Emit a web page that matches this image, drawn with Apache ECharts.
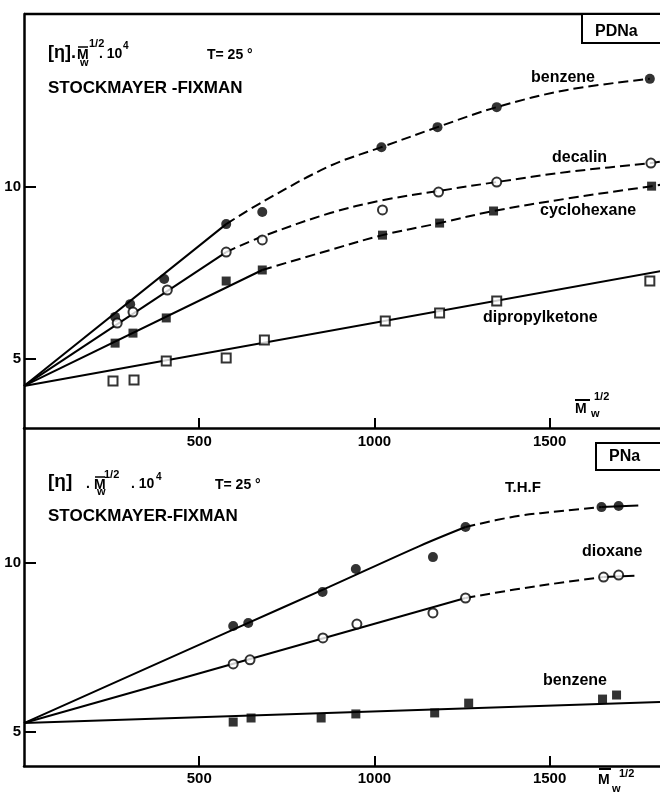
<!DOCTYPE html>
<html><head><meta charset="utf-8">
<script src="https://cdn.jsdelivr.net/npm/echarts@6/dist/echarts.min.js"></script>
<style>html,body{margin:0;padding:0;background:#fff}#c{width:660px;height:794px}</style>
</head><body><div id="c"></div>
<script>
// ---------- DATA ----------
const xTicks = [500, 1000, 1500];
const yTicksTop = [5, 10];
const yTicksBottom = [5, 10];

// Top panel: PDNa
const pdnaBenzenePts = [[260,6.22],[303,6.59],[400,7.32],[577,8.91],[680,9.26],[1020,11.14],[1180,11.72],[1349,12.30],[1786,13.12]];
const pdnaDecalinPts = [[266,6.04],[311,6.36],[409,7.00],[577,8.10],[680,8.45],[1023,9.32],[1183,9.84],[1349,10.13],[1789,10.68]];
const pdnaCyclohexanePts = [[260,5.46],[311,5.75],[406,6.19],[577,7.26],[680,7.58],[1023,8.59],[1186,8.94],[1340,9.29],[1791,10.01]];
const pdnaDipropylPts = [[254,4.36],[314,4.39],[406,4.94],[577,5.03],[686,5.55],[1031,6.10],[1186,6.33],[1349,6.68],[1786,7.26]];

const pdnaBenzeneSolid = [[0,4.22],[577,8.91]];
const pdnaBenzeneDash = [[577,8.91],[680,9.55],[874,10.6],[1020,11.14],[1180,11.72],[1349,12.3],[1550,12.8],[1786,13.12]];
const pdnaDecalinSolid = [[0,4.22],[577,8.10]];
const pdnaDecalinDash = [[577,8.10],[680,8.55],[874,9.23],[1023,9.6],[1183,9.87],[1349,10.13],[1550,10.42],[1789,10.68],[1817,10.72]];
const pdnaCyclohexaneSolid = [[0,4.22],[680,7.58]];
const pdnaCyclohexaneDash = [[680,7.58],[874,8.16],[1023,8.59],[1186,8.94],[1340,9.29],[1550,9.65],[1791,10.01],[1817,10.05]];
const pdnaDipropylLine = [[0,4.22],[1817,7.55]];

// Bottom panel: PNa
const pnaThfPts = [[597,8.14],[640,8.23],[852,9.15],[947,9.83],[1167,10.18],[1260,11.07],[1648,11.66],[1697,11.69]];
const pnaDioxanePts = [[597,7.02],[645,7.14],[853,7.79],[950,8.20],[1167,8.53],[1260,8.97],[1654,9.59],[1697,9.65]];
const pnaBenzenePts = [[597,5.30],[648,5.42],[848,5.42],[947,5.54],[1172,5.57],[1269,5.86],[1651,5.98],[1691,6.10]];

const pnaThfSolid = [[0,5.27],[600,8.05],[871,9.3],[1127,10.5],[1260,11.07]];
const pnaThfDash = [[1260,11.07],[1400,11.38],[1550,11.56],[1648,11.66]];
const pnaThfTail = [[1648,11.66],[1753,11.71]];
const pnaDioxaneSolid = [[0,5.27],[1260,8.97]];
const pnaDioxaneDash = [[1260,8.97],[1400,9.22],[1550,9.45],[1654,9.59]];
const pnaDioxaneTail = [[1654,9.59],[1742,9.63]];
const pnaBenzeneLine = [[0,5.27],[1815,5.89]];

// ---------- CHART ----------
const FONT = '"Liberation Sans", Arial, sans-serif';
const chart = echarts.init(document.getElementById('c'), null, {renderer:'canvas'});

function xAxis(gi, labelMargin){
  return {type:'value', gridIndex:gi, min:0, max:1815, position:'bottom',
    axisLine:{show:true, onZero:false, lineStyle:{color:'#000', width:2.5}},
    axisTick:{show:true, inside:true, length:10, customValues:xTicks, lineStyle:{color:'#000', width:2}},
    axisLabel:{show:true, customValues:xTicks, margin:labelMargin, color:'#000', fontFamily:FONT, fontWeight:'bold', fontSize:15,
      formatter:function(v){return String(v);}},
    splitLine:{show:false}};
}
function yAxis(gi, mn, mx, ticks){
  return {type:'value', gridIndex:gi, min:mn, max:mx,
    axisLine:{show:true, onZero:false, lineStyle:{color:'#000', width:2.5}},
    axisTick:{show:true, inside:true, length:12, customValues:ticks, lineStyle:{color:'#000', width:2}},
    axisLabel:{show:true, customValues:ticks, margin:3, color:'#000', fontFamily:FONT, fontWeight:'bold', fontSize:15,
      formatter:function(v){return String(v);}},
    splitLine:{show:false}};
}
function line(data, xi, dashed, smooth){
  return {type:'line', xAxisIndex:xi, yAxisIndex:xi, data:data, showSymbol:false, symbol:'none',
    smooth: smooth ? 0.35 : false, silent:true, z:2,
    lineStyle:{color:'#000', width:2, type: dashed ? [10,5] : 'solid'}};
}
function pts(data, xi, shape, filled, size){
  return {type:'scatter', xAxisIndex:xi, yAxisIndex:xi, data:data, symbol:shape, symbolSize:size, silent:true, z:5,
    itemStyle: filled ? {color:'#000'} : {color:'#fff', borderColor:'#000', borderWidth:2}};
}
function txt(x, y, s, size, extra){
  return Object.assign({type:'text', silent:true, z:10, style:{x:x, y:y, text:s, fill:'#000',
    font:'bold '+size+'px '+FONT, textVerticalAlign:'middle'}}, extra||{});
}
function hline(x1, y1, x2, y2, w){
  return {type:'line', silent:true, z:10, shape:{x1:x1,y1:y1,x2:x2,y2:y2}, style:{stroke:'#000', lineWidth:w||2}};
}
function box(x, y, w, h){
  return {type:'rect', silent:true, z:10, shape:{x:x,y:y,width:w,height:h}, style:{fill:'#fff', stroke:'#000', lineWidth:2}};
}

const option = {
  animation:false,
  backgroundColor:'#fff',
  grid:[
    {left:24, top:14, width:636, height:414},
    {left:24, top:428, width:636, height:338}
  ],
  xAxis:[xAxis(0,6), xAxis(1,5)],
  yAxis:[yAxis(0,3,15,yTicksTop), yAxis(1,4,14,yTicksBottom)],
  series:[
    line(pdnaBenzeneSolid,0,false,false),
    line(pdnaBenzeneDash,0,true,true),
    line(pdnaDecalinSolid,0,false,false),
    line(pdnaDecalinDash,0,true,true),
    line(pdnaCyclohexaneSolid,0,false,false),
    line(pdnaCyclohexaneDash,0,true,true),
    line(pdnaDipropylLine,0,false,false),
    pts(pdnaBenzenePts,0,'circle',true,10),
    pts(pdnaDecalinPts,0,'circle',false,9),
    pts(pdnaCyclohexanePts,0,'rect',true,9),
    pts(pdnaDipropylPts,0,'rect',false,9),

    line(pnaThfSolid,1,false,true),
    line(pnaThfDash,1,true,true),
    line(pnaThfTail,1,false,false),
    line(pnaDioxaneSolid,1,false,false),
    line(pnaDioxaneDash,1,true,true),
    line(pnaDioxaneTail,1,false,false),
    line(pnaBenzeneLine,1,false,false),
    pts(pnaThfPts,1,'circle',true,10),
    pts(pnaDioxanePts,1,'circle',false,9),
    pts(pnaBenzenePts,1,'rect',true,9)
  ],
  graphic:[
    hline(24,14,660,14,2.5),
    // top panel title
    txt(48,53,'[η].',18),
    txt(77,55,'M',14),
    hline(78,47,88,47,1.5),
    txt(80,63,'w',11),
    txt(89,44,'1/2',11),
    txt(99,54,'. 10',14),
    txt(123,46,'4',10),
    txt(207,55,'T= 25 °',14),
    txt(48,88,'STOCKMAYER -FIXMAN',17),
    box(582,14,90,29),
    txt(595,32,'PDNa',16),
    txt(531,78,'benzene',16),
    txt(552,158,'decalin',16),
    txt(540,211,'cyclohexane',16),
    txt(483,318,'dipropylketone',16),
    // top axis name
    hline(575,400,590,400,2),
    txt(575,409,'M',14),
    txt(591,414,'w',11),
    txt(594,397,'1/2',11),
    // bottom panel title
    txt(48,482,'[η]',19),
    txt(86,484,'.',14),
    txt(94,485,'M',14),
    hline(95,477,105,477,1.5),
    txt(97,492,'w',11),
    txt(104,475,'1/2',11),
    txt(131,484,'. 10',14),
    txt(156,477,'4',10),
    txt(215,485,'T= 25 °',14),
    txt(48,516,'STOCKMAYER-FIXMAN',17),
    box(596,443,80,27),
    txt(609,457,'PNa',16),
    txt(505,488,'T.H.F',15),
    txt(582,552,'dioxane',16),
    txt(543,681,'benzene',16),
    // bottom axis name
    hline(599,769,611,769,2),
    txt(598,780,'M',14),
    txt(612,789,'w',11),
    txt(619,774,'1/2',11)
  ]
};
chart.setOption(option);
</script></body></html>
